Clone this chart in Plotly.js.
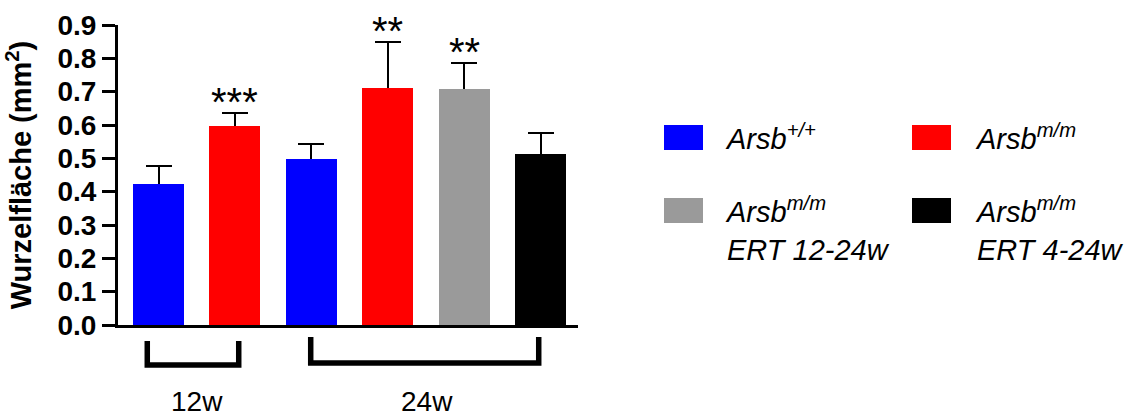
<!DOCTYPE html>
<html>
<head>
<meta charset="utf-8">
<script src="https://cdn.plot.ly/plotly-3.0.1.min.js"></script>
<style>html,body{margin:0;padding:0;background:#fff;}</style>
</head>
<body>
<div id="chart" style="width:1125px;height:418px;"></div>
<script>
// ---- data ----
var categories = ['12w Arsb+/+', '12w Arsb m/m', '24w Arsb+/+', '24w Arsb m/m', '24w Arsb m/m ERT 12-24w', '24w Arsb m/m ERT 4-24w'];
var meanArea = [0.424, 0.598, 0.499, 0.712, 0.708, 0.514];
var semArea = [0.052, 0.038, 0.044, 0.136, 0.078, 0.063];
var significance = ['', '***', '', '**', '**', ''];
var barGroup = [0, 1, 0, 1, 2, 3];
var groupLabels = [
  '<i>Arsb<sup>+/+</sup></i>',
  '<i>Arsb<sup>m/m</sup></i>',
  '<i>Arsb<sup>m/m</sup></i><br><i>ERT 12-24w</i>',
  '<i>Arsb<sup>m/m</sup></i><br><i>ERT 4-24w</i>'
];
var groupColors = ['#0000ff', '#ff0000', '#9a9a9a', '#000000'];
var timepointLabels = ['12w', '24w'];
var yTickVals = [0, 0.1, 0.2, 0.3, 0.4, 0.5, 0.6, 0.7, 0.8, 0.9];

// ---- layout helpers ----
var W = 1125, H = 418;
var mL = 118, mR = 547, mT = 25, mB = 93;
var plotW = W - mL - mR, plotH = H - mT - mB;
function px2paperX(px) { return (px - mL) / plotW; }
function px2paperY(py) { return (H - mB - py) / plotH; }

var FONT = 'Liberation Sans, Arial, sans-serif';
var barColors = barGroup.map(function (g) { return groupColors[g]; });

// error bars drawn first (behind), bars drawn on top so only the upper half shows
var errTrace = {
  type: 'bar',
  x: categories,
  y: meanArea,
  width: 0.667,
  marker: { color: barColors, line: { width: 0 } },
  error_y: {
    type: 'data', symmetric: true,
    array: semArea,
    color: '#000', thickness: 2, width: 13
  },
  showlegend: false,
  hoverinfo: 'none'
};
var barTrace = {
  type: 'bar',
  x: categories,
  y: meanArea,
  width: 0.667,
  marker: { color: barColors, line: { width: 0 } },
  showlegend: false,
  hoverinfo: 'none'
};

var annotations = [];
var shapes = [];

// significance stars above error bars
significance.forEach(function (s, i) {
  if (!s) return;
  annotations.push({
    x: i, y: meanArea[i] + semArea[i], xref: 'x', yref: 'y',
    text: s, showarrow: false, xanchor: 'center', yanchor: 'bottom',
    yshift: -13,
    font: { family: FONT, size: 40, color: '#000' }
  });
});

// timepoint brackets
var brackets = [
  { x0: -0.147, x1: 1.050, top: 341, bottom: 365, labelX: 0.5 },
  { x0: 1.992, x1: 4.976, top: 337, bottom: 363, labelX: 3.52 }
];
brackets.forEach(function (b, k) {
  var yt = px2paperY(b.top), yb = px2paperY(b.bottom);
  shapes.push({
    type: 'path', xref: 'x', yref: 'paper',
    path: 'M' + b.x0 + ',' + yt + ' L' + b.x0 + ',' + yb + ' L' + b.x1 + ',' + yb + ' L' + b.x1 + ',' + yt,
    line: { color: '#000', width: 5.5 }
  });
  annotations.push({
    x: b.labelX, y: px2paperY(419), xref: 'x', yref: 'paper',
    text: timepointLabels[k], showarrow: false, xanchor: 'center', yanchor: 'bottom',
    font: { family: FONT, size: 28, color: '#000' }
  });
});

// manual legend (2 x 2)
var legPos = [
  { sx: 664, sy: 125, tx: 723 },
  { sx: 912, sy: 125, tx: 973 },
  { sx: 664, sy: 198, tx: 723 },
  { sx: 912, sy: 198, tx: 973 }
];
groupLabels.forEach(function (lab, g) {
  var p = legPos[g];
  shapes.push({
    type: 'rect', xref: 'paper', yref: 'paper',
    x0: px2paperX(p.sx), x1: px2paperX(p.sx + 39),
    y0: px2paperY(p.sy), y1: px2paperY(p.sy + 25),
    fillcolor: groupColors[g], line: { width: 0 }
  });
  annotations.push({
    x: px2paperX(p.tx), y: px2paperY(p.sy - 8), xref: 'paper', yref: 'paper',
    text: lab, showarrow: false, xanchor: 'left', yanchor: 'top', align: 'left',
    font: { family: FONT, size: 29, color: '#000' }
  });
});

var layout = {
  width: W, height: H,
  margin: { l: mL, r: mR, t: mT, b: mB, pad: 0 },
  paper_bgcolor: '#fff', plot_bgcolor: '#fff',
  showlegend: false,
  barmode: 'overlay',
  bargap: 0,
  xaxis: {
    type: 'category',
    range: [-0.53, 5.49],
    showticklabels: false, ticks: '',
    showgrid: false, zeroline: false,
    showline: true, linecolor: '#000', linewidth: 3,
    fixedrange: true
  },
  yaxis: {
    range: [0, 0.9],
    tickvals: yTickVals,
    ticktext: yTickVals.map(function (v) { return v.toFixed(1); }),
    ticks: 'outside', ticklen: 13, tickwidth: 3, tickcolor: '#000',
    tickfont: { family: FONT, size: 28, color: '#000', weight: 'bold' },
    showgrid: false, zeroline: false,
    showline: true, linecolor: '#000', linewidth: 3,
    title: { text: 'Wurzelfläche (mm<sup>2</sup>)', standoff: 18,
             font: { family: FONT, size: 29, color: '#000', weight: 'bold' } },
    fixedrange: true
  },
  shapes: shapes,
  annotations: annotations
};

Plotly.newPlot('chart', [errTrace, barTrace], layout, { staticPlot: true, displayModeBar: false });
</script>
</body>
</html>
